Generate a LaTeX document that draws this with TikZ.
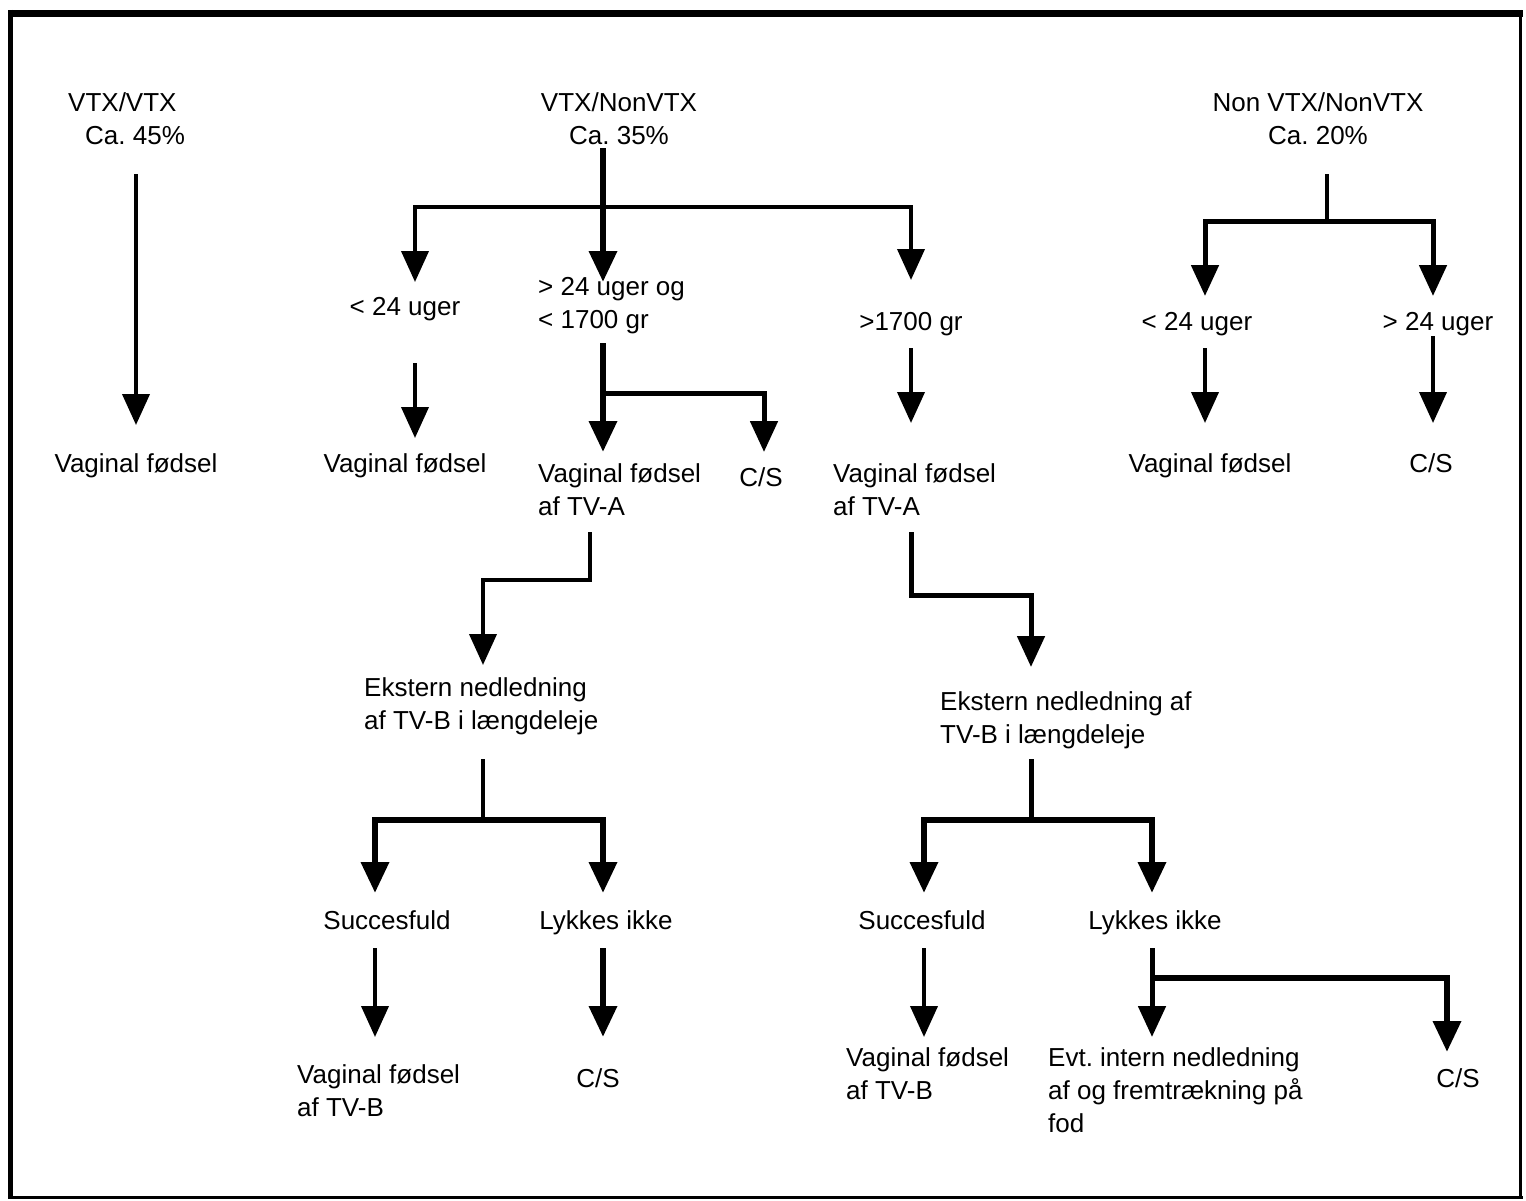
\documentclass[tikz,border=0pt]{standalone}
\usepackage{fontspec}
\setmainfont{Liberation Sans}
\usepackage{tikz}
\usetikzlibrary{arrows.meta}

\begin{document}
\begin{tikzpicture}[x=1pt,y=1pt,yscale=-1,xscale=1,
  >={Triangle[width=27pt,length=31pt]},
  txt/.style={inner sep=0pt,font=\fontsize{26}{33}\selectfont,
    execute at begin node=\strut,execute at end node=\strut},
  link/.style={line width=4pt},
  boldlink/.style={line width=6.5pt}]
\useasboundingbox (0,0) rectangle (1526,1201);

%Shape: Frame
\draw [line width=7pt] (8,13.5) -- (1523,13.5) ;
\draw [line width=5pt] (10.5,10) -- (10.5,1199) ;
\draw [line width=3pt] (1520,10) -- (1520,1199) ;
\draw [line width=2.5pt] (8,1197.5) -- (1523,1197.5) ;

% Text Node: top row
\node (vv) at (68,92) [txt,anchor=north west,align=left] {VTX/VTX\\\hspace*{17pt}Ca.\ 45\%};
\node (vn) at (619,92) [txt,anchor=north,align=center] {VTX/NonVTX\\Ca.\ 35\%};
\node (nn) at (1318,92) [txt,anchor=north,align=center] {Non VTX/NonVTX\\Ca.\ 20\%};
% Text Node: second row
\node (a1) at (405,292) [txt,anchor=north] {< 24 uger};
\node (a2) at (538,277) [txt,anchor=north west,align=left] {> 24 uger og\\< 1700 gr};
\node (a3) at (911,307) [txt,anchor=north] {>1700 gr};
\node (n1) at (1197,307) [txt,anchor=north] {< 24 uger};
\node (n2) at (1438,307) [txt,anchor=north] {> 24 uger};
% Text Node: third row
\node (vvf) at (136,449) [txt,anchor=north] {Vaginal fødsel};
\node (a1f) at (405,449) [txt,anchor=north] {Vaginal fødsel};
\node (a2v) at (538,463) [txt,anchor=north west,align=left] {Vaginal fødsel\\af TV-A};
\node (a2c) at (761,463) [txt,anchor=north] {C/S};
\node (a3v) at (833,463) [txt,anchor=north west,align=left] {Vaginal fødsel\\af TV-A};
\node (n1f) at (1210,449) [txt,anchor=north] {Vaginal fødsel};
\node (n2c) at (1431,449) [txt,anchor=north] {C/S};
% Text Node: version
\node (e1) at (364,677) [txt,anchor=north west,align=left] {Ekstern nedledning\\af TV-B i længdeleje};
\node (e2) at (940,691) [txt,anchor=north west,align=left] {Ekstern nedledning af\\TV-B i længdeleje};
% Text Node: outcome
\node (s1) at (387,906) [txt,anchor=north] {Succesfuld};
\node (l1) at (606,906) [txt,anchor=north] {Lykkes ikke};
\node (s2) at (922,906) [txt,anchor=north] {Succesfuld};
\node (l2) at (1155,906) [txt,anchor=north] {Lykkes ikke};
% Text Node: bottom row
\node (s1v) at (297,1064) [txt,anchor=north west,align=left] {Vaginal fødsel\\af TV-B};
\node (l1c) at (598,1064) [txt,anchor=north] {C/S};
\node (s2v) at (846,1047) [txt,anchor=north west,align=left] {Vaginal fødsel\\af TV-B};
\node (l2e) at (1048,1047) [txt,anchor=north west,align=left] {Evt.\ intern nedledning\\af og fremtrækning på\\fod};
\node (l2c) at (1458,1064) [txt,anchor=north] {C/S};

% junctions
\coordinate (jA) at (603,207);  \coordinate (jA1) at (415,207);  \coordinate (jA2) at (911,207);
\coordinate (jB) at (603,393);  \coordinate (jB2) at (764,393);
\coordinate (jC) at (1327,222); \coordinate (jC1) at (1205,222); \coordinate (jC2) at (1433,222);
\coordinate (jD1) at (590,580); \coordinate (jD2) at (483,580);
\coordinate (jE1) at (911,595); \coordinate (jE2) at (1031,595);
\coordinate (jF) at (483,820);  \coordinate (jF1) at (375,820);  \coordinate (jF2) at (603,820);
\coordinate (jG) at (1031,820); \coordinate (jG1) at (924,820);  \coordinate (jG2) at (1152,820);
\coordinate (jH) at (1152,978); \coordinate (jH2) at (1447,978);

% VTX/VTX
\draw [link,->,shorten <=20pt,shorten >=24pt] (vv.south -| vvf.north) -- (vvf.north) ;

% VTX/NonVTX
\draw [boldlink,->,shorten <=-6pt,shorten >=-5pt] (jA |- vn.south) -- (jA |- a2.north) ;
\draw [link,<->,shorten <=10pt,shorten >=27pt] (jA1 |- a1.north) -- (jA1) -- (jA2) -- (jA2 |- a3.north) ;
\draw [link,->,shorten <=38pt,shorten >=11pt] (jA1 |- a1.south) -- (jA1 |- a1f.north) ;
\draw [boldlink,->,shorten <=5pt,shorten >=11pt] (jB |- a2.south) -- (jB |- a2v.north) ;
\draw [link,->,line width=5pt,shorten >=11pt] (jB) -- (jB2) -- (jB2 |- a2c.north) ;
\draw [link,->,shorten <=8pt,shorten >=40pt] (jA2 |- a3.south) -- (jA2 |- a3v.north) ;

% Non VTX/NonVTX
\draw [link,line width=3.5pt,shorten <=20pt] (jC |- nn.south) -- (jC) ;
\draw [link,<->,line width=5pt,shorten <=11pt,shorten >=11pt] (jC1 |- n1.north) -- (jC1) -- (jC2) -- (jC2 |- n2.north) ;
\draw [link,->,shorten <=8pt,shorten >=26pt] (jC1 |- n1.south) -- (jC1 |- n1f.north) ;
\draw [link,->,shorten <=-4pt,shorten >=26pt] (jC2 |- n2.south) -- (jC2 |- n2c.north) ;

% nedledning af TV-B
\draw [link,->,shorten <=7pt,shorten >=12pt] (jD1 |- a2v.south) -- (jD1) -- (jD2) -- (jD2 |- e1.north) ;
\draw [link,->,line width=5pt,shorten <=7pt,shorten >=24pt] (jE1 |- a3v.south) -- (jE1) -- (jE2) -- (jE2 |- e2.north) ;

% left branch
\draw [link,shorten <=20pt] (jF |- e1.south) -- (jF) ;
\draw [boldlink,<->,shorten <=13pt,shorten >=13pt] (jF1 |- s1.north) -- (jF1) -- (jF2) -- (jF2 |- l1.north) ;
\draw [link,->,shorten <=9pt,shorten >=27pt] (jF1 |- s1.south) -- (jF1 |- s1v.north) ;
\draw [boldlink,->,shorten <=9pt,shorten >=27pt] (jF2 |- l1.south) -- (jF2 |- l1c.north) ;

% right branch
\draw [link,line width=5pt,shorten <=6pt] (jG |- e2.south) -- (jG) ;
\draw [boldlink,<->,shorten <=13pt,shorten >=13pt] (jG1 |- s2.north) -- (jG1) -- (jG2) -- (jG2 |- l2.north) ;
\draw [link,->,shorten <=9pt,shorten >=10pt] (jG1 |- s2.south) -- (jG1 |- s2v.north) ;
\draw [link,->,line width=5pt,shorten <=9pt,shorten >=10pt] (jH |- l2.south) -- (jH |- l2e.north) ;
\draw [boldlink,->,shorten >=12pt] (jH) -- (jH2) -- (jH2 |- l2c.north) ;

\end{tikzpicture}
\end{document}
